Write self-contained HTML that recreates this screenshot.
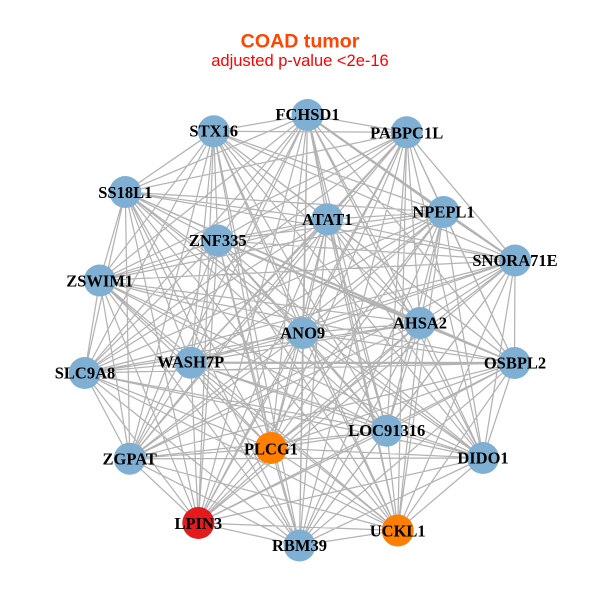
<!DOCTYPE html>
<html><head><meta charset="utf-8"><style>
html,body{margin:0;padding:0;background:#fff}
svg{display:block}
.l{font-family:"Liberation Serif",serif;font-weight:bold;font-size:16.5px;fill:#000;text-anchor:middle}
</style></head><body>
<svg id="s" width="600" height="600" viewBox="0 0 600 600" xmlns="http://www.w3.org/2000/svg">
<rect width="600" height="600" fill="#fff"/>
<g id="e" stroke="#b3b3b3" stroke-width="1.25" fill="none"></g>
<g stroke="#b3b3b3" stroke-width="2.2" fill="none">
<path d="M217.7 240.5L420 323M307.5 115L443.5 212M443.5 212L515 260.5M190.7 362.7L514.5 363"/>
</g>
<g fill="#7fb0d3">
<circle cx="307.5" cy="115" r="16"/><circle cx="213.7" cy="131.3" r="16"/><circle cx="406.7" cy="132.3" r="16"/>
<circle cx="125.3" cy="192" r="16"/><circle cx="443.5" cy="212" r="16"/><circle cx="327.3" cy="219.3" r="16"/>
<circle cx="217.7" cy="240.5" r="16"/><circle cx="515" cy="260.5" r="16"/><circle cx="99.7" cy="280.5" r="16"/>
<circle cx="420" cy="323" r="16"/><circle cx="302.7" cy="333" r="16"/><circle cx="514.5" cy="363" r="16"/>
<circle cx="84.7" cy="373" r="16"/><circle cx="190.7" cy="362.7" r="16"/><circle cx="386.7" cy="430.7" r="16"/>
<circle cx="483" cy="458" r="16"/><circle cx="129.7" cy="458.7" r="16"/><circle cx="299.5" cy="545.5" r="16"/>
</g>
<circle cx="271" cy="448" r="16" fill="#ff7f00"/>
<circle cx="397.7" cy="530.5" r="16" fill="#ff7f00"/>
<circle cx="198.3" cy="523" r="16" fill="#e41a1c"/>
<text class="l" x="307.5" y="120">FCHSD1</text>
<text class="l" x="213.7" y="136.5">STX16</text>
<text class="l" x="406.7" y="138.5">PABPC1L</text>
<text class="l" x="125.3" y="198">SS18L1</text>
<text class="l" x="443.5" y="217.5">NPEPL1</text>
<text class="l" x="327.3" y="225">ATAT1</text>
<text class="l" x="217.7" y="246">ZNF335</text>
<text class="l" x="515" y="266">SNORA71E</text>
<text class="l" x="99.7" y="286.5">ZSWIM1</text>
<text class="l" x="420" y="328.5">AHSA2</text>
<text class="l" x="302.7" y="338.5">ANO9</text>
<text class="l" x="515" y="368.5">OSBPL2</text>
<text class="l" x="85" y="378.5">SLC9A8</text>
<text class="l" x="190.7" y="367.5">WASH7P</text>
<text class="l" x="386.7" y="436">LOC91316</text>
<text class="l" x="271" y="454.5">PLCG1</text>
<text class="l" x="483" y="463.5">DIDO1</text>
<text class="l" x="129.7" y="464.5">ZGPAT</text>
<text class="l" x="198.3" y="529">LPIN3</text>
<text class="l" x="397.7" y="536.5">UCKL1</text>
<text class="l" x="299.5" y="551">RBM39</text>
<text x="300" y="47.5" text-anchor="middle" font-family="'Liberation Sans',sans-serif" font-weight="bold" font-size="19.6" fill="#ff4500">COAD tumor</text>
<text x="300" y="66" text-anchor="middle" font-family="'Liberation Sans',sans-serif" font-size="16.5" fill="#ff0000">adjusted p-value &lt;2e-16</text>
</svg>
<script>
var p=[[307.5,115],[213.7,131.3],[406.7,132.3],[125.3,192],[443.5,212],[327.3,219.3],[217.7,240.5],[515,260.5],[99.7,280.5],[420,323],[302.7,333],[514.5,363],[84.7,373],[190.7,362.7],[386.7,430.7],[271,448],[483,458],[129.7,458.7],[198.3,523],[397.7,530.5],[299.5,545.5]];
var d="";
for(var i=0;i<p.length;i++)for(var j=i+1;j<p.length;j++)d+="M"+p[i][0]+" "+p[i][1]+"L"+p[j][0]+" "+p[j][1];
var el=document.createElementNS("http://www.w3.org/2000/svg","path");
el.setAttribute("d",d);
document.getElementById("e").appendChild(el);
</script>
</body></html>
